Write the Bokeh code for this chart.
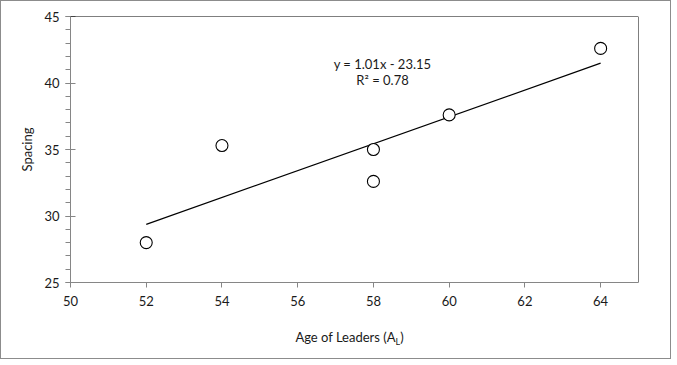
from bokeh.plotting import figure
from bokeh.models import Range1d, FixedTicker, Span, Label, ColumnDataSource, Div
from bokeh.layouts import column
from bokeh.embed import file_html
from bokeh.resources import INLINE

# Data
age = [52, 54, 58, 58, 60, 64]
spacing = [28.0, 35.3, 35.0, 32.6, 37.6, 42.6]
slope = 1.01
intercept = -23.15
r2 = 0.78
x_ticks = [50, 52, 54, 56, 58, 60, 62, 64]
y_ticks = [25, 30, 35, 40, 45]
x_title = "Age of Leaders (A"
x_title_sub = "L"
y_title = "Spacing"

FONT = "Lato"
TXT = "#1a1a1a"
AX = "#868686"

p = figure(width=659, height=320, output_backend="svg", toolbar_location=None,
           x_range=Range1d(50, 65), y_range=Range1d(25, 45),
           min_border_left=69, min_border_right=22, min_border_top=15, min_border_bottom=39)
p.grid.visible = False
p.outline_line_color = None
p.background_fill_color = "white"
p.border_fill_color = "white"

# top & right frame edges
p.add_layout(Span(location=65, dimension="height", line_color="black", line_width=1))
p.add_layout(Span(location=45, dimension="width", line_color="black", line_width=1))

xa = p.xaxis[0]
xa.ticker = FixedTicker(ticks=x_ticks)
xa.axis_line_color = AX
xa.major_tick_line_color = AX
xa.major_tick_in = 0
xa.major_tick_out = 5
xa.minor_tick_line_color = None
xa.major_label_text_font = FONT
xa.major_label_text_font_size = "13px"
xa.major_label_text_color = TXT
xa.major_label_standoff = 8

ya = p.yaxis[0]
ya.ticker = FixedTicker(ticks=y_ticks, minor_ticks=list(range(25, 46)))
ya.axis_line_color = AX
ya.major_tick_line_color = AX
ya.minor_tick_line_color = AX
ya.major_tick_in = 5
ya.major_tick_out = 5
ya.minor_tick_in = 0
ya.minor_tick_out = 5
ya.major_label_text_font = FONT
ya.major_label_text_font_size = "13px"
ya.major_label_text_color = TXT
ya.major_label_standoff = 6
ya.axis_label = y_title
ya.axis_label_text_font = FONT
ya.axis_label_text_font_size = "13px"
ya.axis_label_text_font_style = "normal"
ya.axis_label_text_color = TXT
ya.axis_label_standoff = 6

# trend line
tx = [min(age), max(age)]
ty = [slope * v + intercept for v in tx]
p.line(tx, ty, line_color="black", line_width=1.2)

src = ColumnDataSource(dict(x=age, y=spacing))
p.scatter("x", "y", source=src, size=12, fill_color="white", line_color="black", line_width=1.1)

# equation
p.add_layout(Label(x=58.24, y=41.42, text=f"y = {slope:.2f}x - {-intercept:.2f}", text_align="center",
                   text_baseline="middle", text_font=FONT, text_font_size="13px", text_color=TXT))
p.add_layout(Label(x=58.24, y=40.24, text=f"R² = {r2:.2f}", text_align="center",
                   text_baseline="middle", text_font=FONT, text_font_size="13px", text_color=TXT))

# x axis title with subscript
div = Div(width=659, height=27,
          text=(f'<div style="display:block; width:659px; box-sizing:border-box; text-align:center; '
                f'padding-left:28px; padding-top:3px; '
                f'font-family:Lato; font-size:13px; line-height:16px; color:{TXT};">'
                f'{x_title}<span style="font-size:9px; position:relative; top:3px;">{x_title_sub}</span>)</div>'))

layout = column(p, div, spacing=0,
                styles={"border": "1px solid #8c8c8c", "background-color": "white"})

open("out.html", "w").write(file_html(layout, INLINE))
